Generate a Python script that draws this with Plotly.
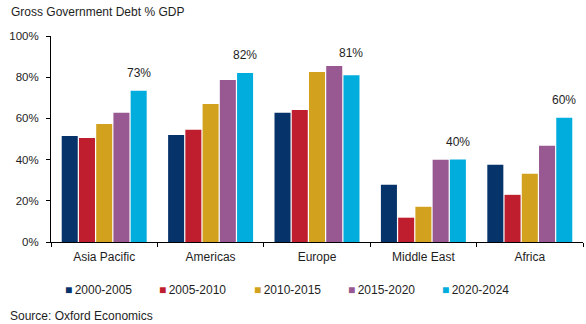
import plotly.graph_objects as go

regions = ["Asia Pacific", "Americas", "Europe", "Middle East", "Africa"]
periods = ["2000-2005", "2005-2010", "2010-2015", "2015-2020", "2020-2024"]
v_2000_2005 = [51.5, 52.0, 62.7, 27.8, 37.5]
v_2005_2010 = [50.5, 54.5, 64.1, 11.8, 22.9]
v_2010_2015 = [57.3, 67.0, 82.5, 17.1, 33.1]
v_2015_2020 = [62.7, 78.7, 85.4, 39.9, 46.7]
v_2020_2024 = [73.4, 82.0, 81.0, 40.0, 60.3]
series = [v_2000_2005, v_2005_2010, v_2010_2015, v_2015_2020, v_2020_2024]
colors = ["#06336A", "#BE1E2D", "#D2A21E", "#985891", "#00ADDC"]

FONT = "Liberation Sans, Arial, sans-serif"
TXT = "#1e1e1e"
W, H = 586, 324
L, R, T, B = 51, 3, 36, 82
BARGAP, GROUPGAP = 0.19, 0.07

fig = go.Figure()
for name, vals, col in zip(periods, series, colors):
    fig.add_trace(go.Bar(x=regions, y=vals, name=name, marker_color=col,
                         marker_line_width=0, showlegend=False))

plot_w = W - L - R
plot_h = H - T - B
cat_w = plot_w / len(regions)
slot = cat_w * (1 - BARGAP) / len(periods)
last_off = (len(periods) / 2 - 0.5) * slot

anns = []
# data labels on the last series (lifted a little when the neighbour bar is taller)
for reg, v, prev in zip(regions, v_2020_2024, v_2015_2020):
    anns.append(dict(x=reg, y=v, text=f"{round(v)}%", showarrow=False,
                     xref="x", yref="y", xshift=last_off,
                     yshift=9 + (4 if prev > v else 0),
                     yanchor="bottom", xanchor="center",
                     font=dict(family=FONT, size=12, color=TXT)))

def px_to_paper(px, py):
    return (px - L) / plot_w, 1 - (py - T) / plot_h

# legend row
leg_start, leg_step = 63, 94.3
for i, (name, col) in enumerate(zip(periods, colors)):
    xp, yp = px_to_paper(leg_start + i * leg_step, 290)
    anns.append(dict(x=xp, y=yp, xref="paper", yref="paper",
                     text=f"<span style='color:{col}'>■</span>&#8201;{name}",
                     showarrow=False, xanchor="left", yanchor="middle",
                     font=dict(family=FONT, size=12, color=TXT)))

xp, yp = px_to_paper(9, 12)
anns.append(dict(text="Gross Government Debt % GDP", x=xp, y=yp, showarrow=False,
                 xref="paper", yref="paper", xanchor="left", yanchor="middle",
                 font=dict(family=FONT, size=12, color=TXT)))
xp, yp = px_to_paper(8, 316)
anns.append(dict(text="Source: Oxford Economics", x=xp, y=yp, showarrow=False,
                 xref="paper", yref="paper", xanchor="left", yanchor="middle",
                 font=dict(family=FONT, size=12, color=TXT)))

fig.update_layout(
    width=W, height=H,
    margin=dict(l=L, r=R, t=T, b=B),
    paper_bgcolor="white", plot_bgcolor="white",
    barmode="group", bargap=BARGAP, bargroupgap=GROUPGAP,
    font=dict(family=FONT, size=12, color=TXT),
    showlegend=False,
    xaxis=dict(showline=True, linecolor="black", linewidth=1,
               ticks="outside", tickson="boundaries", ticklen=4,
               tickcolor="black", showgrid=False, ticklabelstandoff=4,
               tickfont=dict(family=FONT, size=12, color=TXT)),
    yaxis=dict(range=[0, 100], dtick=20, ticksuffix="%", showline=True,
               linecolor="black", linewidth=1, ticks="outside", ticklen=4,
               tickcolor="black", showgrid=False, zeroline=False,
               ticklabelstandoff=5,
               tickfont=dict(family=FONT, size=11.5, color=TXT)),
    annotations=anns,
)

fig.write_html("out.html")
